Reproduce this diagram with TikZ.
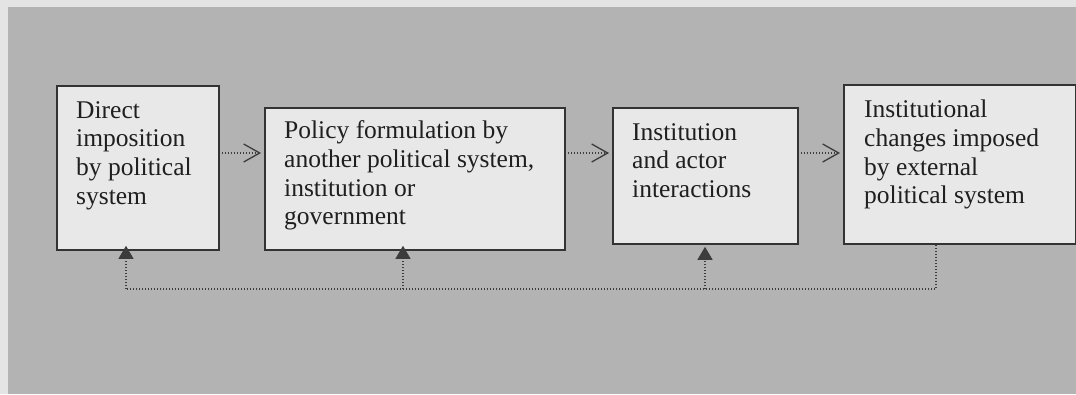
\documentclass[tikz,border=0pt]{standalone}
\usepackage{fontspec}
\setmainfont{Liberation Serif}
\usetikzlibrary{arrows.meta}
\definecolor{margincol}{HTML}{E4E4E4}
\definecolor{panelcol}{HTML}{B3B3B3}
\definecolor{boxfill}{HTML}{E8E8E8}
\definecolor{ink}{HTML}{333333}
\definecolor{dotink}{HTML}{3C3C3C}
\begin{document}
\begin{tikzpicture}[x=1pt,y=-1pt,
  stagebox/.style={draw=ink, line width=1.8pt, fill=boxfill, rectangle, inner sep=0pt, anchor=north west},
  txt/.style={anchor=north west, inner sep=0pt, align=left, font=\fontsize{25.5}{28.7}\selectfont, text=black!88},
  flow/.style={draw=dotink, line width=1.3pt, dash pattern=on 1.3pt off 1.7pt,
    -{Straight Barb[length=16pt,width=18pt,line width=1.3pt]}, shorten <=2pt, shorten >=3pt},
  fb/.style={draw=dotink, line width=1.3pt, dash pattern=on 1.3pt off 1.7pt},
  fbarrow/.style={fb, -{Triangle[length=13pt,width=15pt]}}]
\useasboundingbox (0,0) rectangle (1076,394);
\fill[margincol] (0,0) rectangle (1076,394);
\fill[panelcol] (8,7) rectangle (1076,394);

\node[stagebox, minimum width=162pt, minimum height=164pt] (b1) at (56,85) {};
\node[stagebox, minimum width=300pt, minimum height=142pt] (b2) at (264,107) {};
\node[stagebox, minimum width=185pt, minimum height=136pt] (b3) at (612,107) {};
\node[stagebox, minimum width=232pt, minimum height=159pt] (b4) at (843,84) {};

\node[txt] (t1) at (76,101) {Direct\\imposition\\by political\\system};
\node[txt] (t2) at (284,120.6) {Policy formulation by\\another political system,\\institution or\\government};
\node[txt] (t3) at (632,123) {Institution\\and actor\\interactions};
\node[txt] (t4) at (864,100) {Institutional\\changes imposed\\by external\\political system};

\coordinate (a) at (0,153);
\draw[flow] (b1.east |- a) -- (b2.west |- a);
\draw[flow] (b2.east |- a) -- (b3.west |- a);
\draw[flow] (b3.east |- a) -- (b4.west |- a);

\coordinate (j1) at (126,289);
\coordinate (j2) at (403,289);
\coordinate (j3) at (705,289);
\coordinate (j4) at (936,289);
\draw[fb] (b4.south -| j4) -- (j4) -- (j1);
\draw[fbarrow] (j1) -- ([yshift=5pt]b1.south -| j1);
\draw[fbarrow] (j2) -- ([yshift=5pt]b2.south -| j2);
\draw[fbarrow] (j3) -- ([yshift=-2pt]b3.south -| j3);
\end{tikzpicture}
\end{document}
